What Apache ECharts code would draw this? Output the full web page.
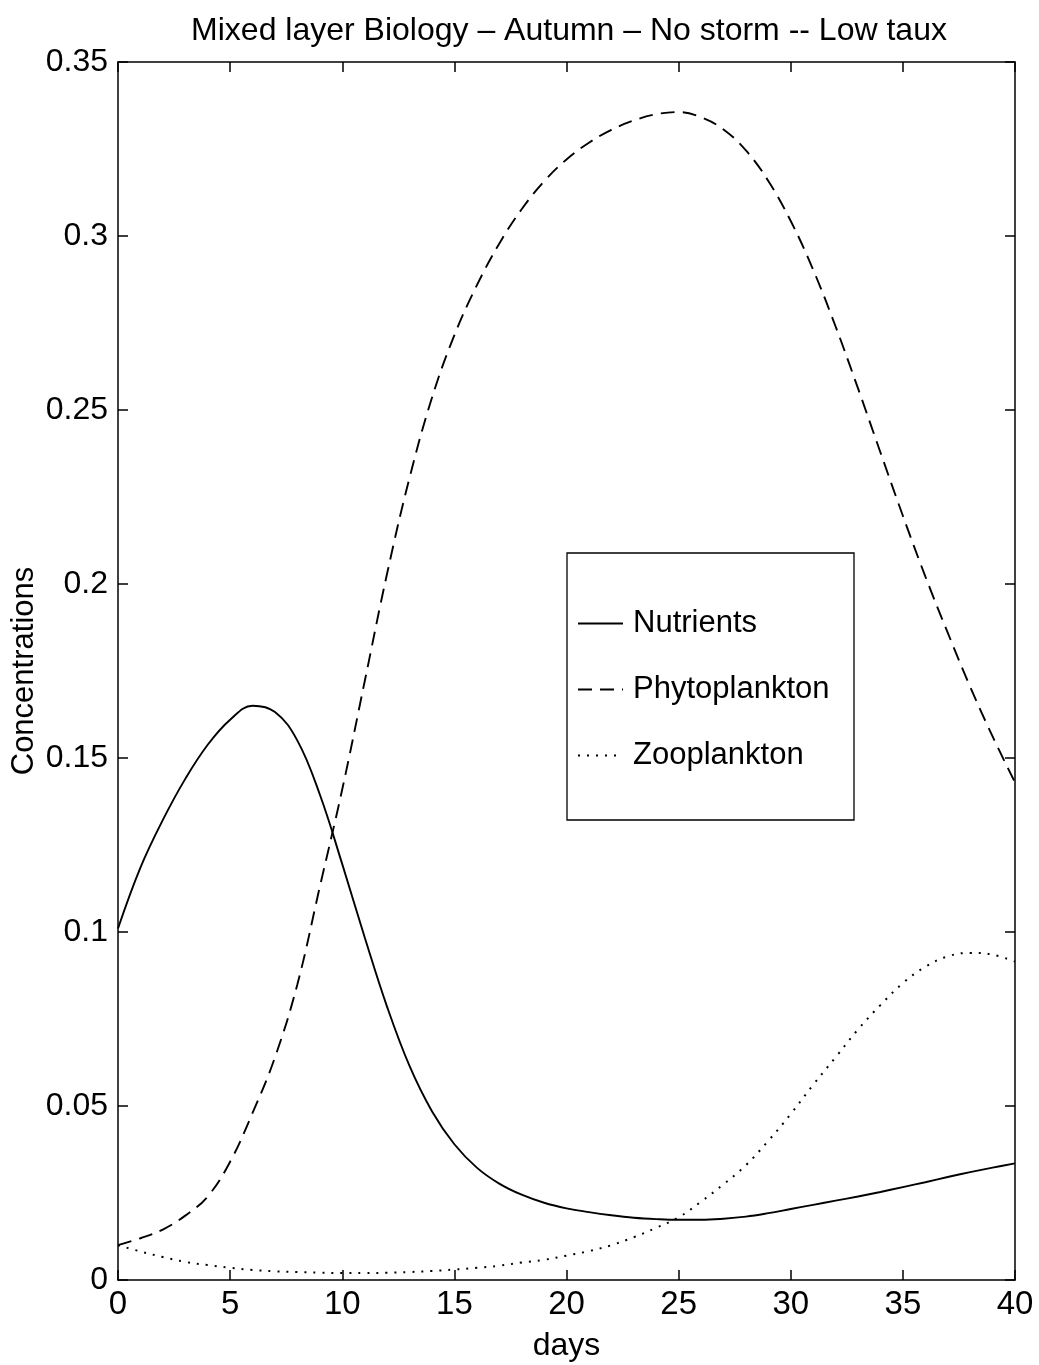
<!DOCTYPE html>
<html>
<head>
<meta charset="utf-8">
<script src="https://cdn.jsdelivr.net/npm/echarts@6/dist/echarts.min.js"></script>
<style>
html,body{margin:0;padding:0;background:#fff;}
#chart{width:1039px;height:1365px;}
</style>
</head>
<body>
<div id="chart"></div>
<script>
// ---- data ----
const days = [0,1,2,3,4,5,6,7,8,9,10,11,12,13,14,15,16,17,18,19,20,21,22,23,24,25,26,27,28,29,30,31,32,33,34,35,36,37,38,39,40];
const nutrients = [0.101,0.1185,0.1322,0.1440,0.1538,0.1610,0.1650,0.1632,0.1550,0.1395,0.1195,0.0985,0.0785,0.0615,0.0485,0.039,0.0323,0.0277,0.0245,0.0222,0.0206,0.0195,0.0186,0.0179,0.0175,0.0173,0.0173,0.0176,0.0182,0.0192,0.0204,0.0216,0.0228,0.0240,0.0253,0.0267,0.0281,0.0296,0.0310,0.0323,0.0335];
const phytoplankton = [0.010,0.012,0.0145,0.0185,0.024,0.034,0.048,0.064,0.085,0.113,0.141,0.172,0.203,0.2305,0.2535,0.2715,0.2858,0.2978,0.3077,0.3157,0.3220,0.3268,0.3305,0.3332,0.3350,0.3356,0.3341,0.3306,0.3246,0.3158,0.3043,0.2903,0.2740,0.2562,0.2378,0.2196,0.2022,0.1860,0.1705,0.1562,0.1430];
const zooplankton = [0.010,0.0082,0.0066,0.0052,0.0043,0.0035,0.0029,0.0025,0.0023,0.0021,0.002,0.002,0.0021,0.0023,0.0026,0.003,0.0035,0.0041,0.005,0.0058,0.007,0.0083,0.010,0.0123,0.015,0.018,0.0225,0.0275,0.033,0.040,0.0477,0.0561,0.064,0.072,0.079,0.0853,0.090,0.093,0.094,0.0935,0.0915];
const seriesNames = ['Nutrients','Phytoplankton','Zooplankton'];
const titleText = 'Mixed layer Biology – Autumn – No storm -- Low taux';
const xName = 'days';
const yName = 'Concentrations';

const FONT = '"Liberation Sans", Arial, Helvetica, sans-serif';
const pairs = arr => days.map((d, i) => [d, arr[i]]);

const axisCommon = {
  axisLine: {show: true, onZero: false, lineStyle: {color: '#000', width: 1.5}},
  axisTick: {show: true, inside: true, length: 10, lineStyle: {color: '#000', width: 1.5}},
  splitLine: {show: false}
};

const chart = echarts.init(document.getElementById('chart'), null, {renderer: 'canvas'});
chart.setOption({
  backgroundColor: '#fff',
  animation: false,
  title: {
    text: titleText,
    left: 564, top: 10, textAlign: 'center',
    textStyle: {fontFamily: FONT, fontSize: 32, fontWeight: 'normal', color: '#000'}
  },
  grid: {left: 118, right: 24, top: 62, bottom: 85, containLabel: false, outerBoundsMode: 'none'},
  xAxis: [
    Object.assign({
      type: 'value', min: 0, max: 40, interval: 5, position: 'bottom',
      name: xName, nameLocation: 'middle', nameGap: 50, nameMoveOverlap: false,
      nameTextStyle: {fontFamily: FONT, fontSize: 32, color: '#000'},
      axisLabel: {fontFamily: FONT, fontSize: 33, color: '#000', margin: 8}
    }, axisCommon),
    Object.assign({
      type: 'value', min: 0, max: 40, interval: 5, position: 'top',
      axisLabel: {show: false}
    }, axisCommon)
  ],
  yAxis: [
    Object.assign({
      type: 'value', min: 0, max: 0.35, interval: 0.05, position: 'left',
      name: yName, nameLocation: 'middle', nameGap: 78, nameRotate: 90, nameMoveOverlap: false,
      nameTextStyle: {fontFamily: FONT, fontSize: 31, color: '#000'},
      axisLabel: {fontFamily: FONT, fontSize: 32, color: '#000', margin: 10}
    }, axisCommon),
    Object.assign({
      type: 'value', min: 0, max: 0.35, interval: 0.05, position: 'right',
      axisLabel: {show: false}
    }, axisCommon)
  ],
  legend: {
    show: true,
    orient: 'vertical',
    left: 572, top: 603,
    itemWidth: 45, itemHeight: 14, itemGap: 35,
    itemStyle: {opacity: 0},
    textStyle: {fontFamily: FONT, fontSize: 31, color: '#000', padding: [0,0,0,5]},
    data: seriesNames
  },
  graphic: [{
    type: 'rect', z: 3,
    shape: {x: 567, y: 553, width: 287, height: 267},
    style: {fill: '#fff', stroke: '#000', lineWidth: 1.3}
  }],
  series: [
    {name: seriesNames[0], type: 'line', data: pairs(nutrients), smooth: 0.4, symbol: 'none',
     lineStyle: {color: '#000', width: 1.9, type: 'solid'}, itemStyle: {color: '#000'}},
    {name: seriesNames[1], type: 'line', data: pairs(phytoplankton), smooth: 0.4, symbol: 'none',
     lineStyle: {color: '#000', width: 1.9, type: [14, 8]}, itemStyle: {color: '#000'}},
    {name: seriesNames[2], type: 'line', data: pairs(zooplankton), smooth: 0.4, symbol: 'none',
     lineStyle: {color: '#000', width: 2, type: [2, 7]}, itemStyle: {color: '#000'}}
  ]
});
</script>
</body>
</html>
